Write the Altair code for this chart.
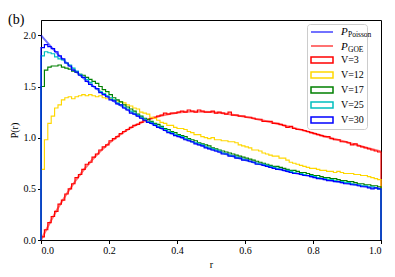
import altair as alt
import pandas as pd

# ---- values ----
curve_names = ["P_Poisson", "P_GOE"]
curve_colors = ["#0000ff", "#ff0000"]
hist_names = ["V=3", "V=12", "V=17", "V=25", "V=30"]
hist_colors = ["#ff0000", "#ffd700", "#008000", "#00bfbf", "#0000ff"]

r_curve = [0.0, 0.05, 0.1, 0.15, 0.2, 0.25, 0.3, 0.35, 0.4, 0.45, 0.5,
           0.55, 0.6, 0.65, 0.7, 0.75, 0.8, 0.85, 0.9, 0.95, 1.0]
poisson_curve = [2.0, 1.814, 1.653, 1.512, 1.389, 1.28, 1.183, 1.097, 1.020, 0.951, 0.889,
                 0.833, 0.781, 0.735, 0.692, 0.653, 0.617, 0.584, 0.554, 0.526, 0.5]
goe_curve = [0.0, 0.312, 0.572, 0.782, 0.946, 1.069, 1.156, 1.212, 1.244, 1.255, 1.250,
             1.232, 1.205, 1.171, 1.132, 1.089, 1.045, 1.000, 0.955, 0.910, 0.866]

hist_v3 = [0.03, 0.10, 0.17, 0.23, 0.28, 0.35, 0.39, 0.45, 0.50, 0.55,
           0.61, 0.64, 0.69, 0.74, 0.76, 0.81, 0.84, 0.88, 0.91, 0.93,
           0.97, 0.99, 1.01, 1.04, 1.06, 1.08, 1.10, 1.12, 1.13, 1.15,
           1.17, 1.18, 1.19, 1.20, 1.21, 1.22, 1.24, 1.23, 1.24, 1.24,
           1.25, 1.26, 1.25, 1.27, 1.26, 1.25, 1.27, 1.26, 1.25, 1.25,
           1.26, 1.24, 1.25, 1.24, 1.23, 1.25, 1.22, 1.22, 1.21, 1.21,
           1.20, 1.20, 1.19, 1.18, 1.18, 1.16, 1.16, 1.16, 1.14, 1.14,
           1.13, 1.12, 1.10, 1.11, 1.09, 1.08, 1.08, 1.07, 1.06, 1.05,
           1.04, 1.03, 1.02, 1.01, 1.01, 0.99, 0.98, 0.98, 0.96, 0.96,
           0.95, 0.93, 0.94, 0.92, 0.91, 0.90, 0.89, 0.88, 0.87, 0.86]
hist_v12 = [0.69, 0.98, 1.14, 1.21, 1.29, 1.32, 1.37, 1.39, 1.40, 1.38,
            1.40, 1.41, 1.42, 1.41, 1.42, 1.41, 1.40, 1.41, 1.39, 1.38,
            1.38, 1.37, 1.36, 1.35, 1.34, 1.32, 1.31, 1.29, 1.28, 1.25,
            1.24, 1.23, 1.20, 1.19, 1.17, 1.15, 1.14, 1.12, 1.12, 1.10,
            1.09, 1.09, 1.08, 1.06, 1.05, 1.03, 1.03, 1.01, 1.00, 0.99,
            1.00, 0.98, 0.98, 0.97, 0.97, 0.96, 0.96, 0.95, 0.93, 0.92,
            0.91, 0.90, 0.88, 0.88, 0.87, 0.85, 0.84, 0.83, 0.82, 0.82,
            0.80, 0.80, 0.78, 0.76, 0.75, 0.74, 0.73, 0.72, 0.71, 0.70,
            0.70, 0.69, 0.68, 0.68, 0.67, 0.67, 0.66, 0.67, 0.66, 0.65,
            0.65, 0.65, 0.64, 0.64, 0.63, 0.63, 0.62, 0.61, 0.60, 0.59]
hist_v17 = [1.50, 1.66, 1.69, 1.70, 1.70, 1.71, 1.69, 1.68, 1.67, 1.65,
            1.64, 1.62, 1.61, 1.59, 1.57, 1.55, 1.53, 1.50, 1.47, 1.45,
            1.42, 1.39, 1.37, 1.35, 1.32, 1.30, 1.28, 1.26, 1.23, 1.21,
            1.19, 1.18, 1.16, 1.14, 1.13, 1.11, 1.09, 1.08, 1.06, 1.05,
            1.03, 1.02, 1.01, 0.99, 0.98, 0.97, 0.95, 0.94, 0.93, 0.92,
            0.90, 0.89, 0.88, 0.87, 0.86, 0.85, 0.84, 0.83, 0.82, 0.81,
            0.80, 0.79, 0.78, 0.77, 0.76, 0.75, 0.74, 0.73, 0.72, 0.72,
            0.71, 0.70, 0.69, 0.68, 0.68, 0.67, 0.66, 0.66, 0.65, 0.64,
            0.63, 0.63, 0.62, 0.61, 0.61, 0.60, 0.60, 0.59, 0.58, 0.58,
            0.57, 0.57, 0.56, 0.55, 0.55, 0.54, 0.54, 0.53, 0.53, 0.52]
hist_v25 = [1.80, 1.84, 1.83, 1.82, 1.79, 1.77, 1.76, 1.73, 1.71, 1.68,
            1.65, 1.62, 1.59, 1.57, 1.54, 1.50, 1.48, 1.45, 1.43, 1.41,
            1.39, 1.37, 1.34, 1.32, 1.30, 1.28, 1.26, 1.24, 1.22, 1.20,
            1.18, 1.16, 1.15, 1.13, 1.11, 1.10, 1.08, 1.06, 1.05, 1.03,
            1.02, 1.01, 0.99, 0.98, 0.96, 0.95, 0.94, 0.93, 0.91, 0.90,
            0.89, 0.88, 0.87, 0.85, 0.84, 0.83, 0.82, 0.81, 0.80, 0.79,
            0.78, 0.77, 0.76, 0.75, 0.74, 0.74, 0.73, 0.72, 0.71, 0.70,
            0.69, 0.68, 0.68, 0.67, 0.66, 0.65, 0.65, 0.64, 0.63, 0.63,
            0.62, 0.61, 0.60, 0.60, 0.59, 0.59, 0.58, 0.57, 0.57, 0.56,
            0.56, 0.55, 0.54, 0.54, 0.53, 0.53, 0.52, 0.52, 0.51, 0.50]
hist_v30 = [1.88, 1.91, 1.89, 1.87, 1.84, 1.80, 1.77, 1.73, 1.70, 1.66,
            1.64, 1.61, 1.59, 1.55, 1.52, 1.50, 1.48, 1.44, 1.42, 1.40,
            1.37, 1.36, 1.33, 1.32, 1.29, 1.27, 1.24, 1.23, 1.21, 1.19,
            1.17, 1.15, 1.14, 1.12, 1.10, 1.09, 1.07, 1.05, 1.04, 1.02,
            1.01, 1.00, 0.98, 0.97, 0.96, 0.94, 0.93, 0.92, 0.90, 0.89,
            0.88, 0.87, 0.86, 0.84, 0.84, 0.82, 0.82, 0.80, 0.80, 0.78,
            0.78, 0.77, 0.76, 0.74, 0.74, 0.73, 0.72, 0.71, 0.70, 0.69,
            0.69, 0.68, 0.67, 0.66, 0.65, 0.65, 0.64, 0.63, 0.63, 0.62,
            0.61, 0.60, 0.60, 0.59, 0.58, 0.58, 0.57, 0.57, 0.56, 0.55,
            0.55, 0.54, 0.54, 0.53, 0.52, 0.52, 0.51, 0.50, 0.51, 0.50]

n_bins = 100
bin_edges = [round(i / n_bins, 2) for i in range(n_bins + 1)]

x_ticks = [0.0, 0.2, 0.4, 0.6, 0.8, 1.0]
y_ticks = [0.0, 0.5, 1.0, 1.5, 2.0]

# ---- tables built from the arrays ----
curve_df = pd.DataFrame({
    "name": ["P_Poisson"] * len(r_curve) + ["P_GOE"] * len(r_curve),
    "r": r_curve + r_curve,
    "p": poisson_curve + goe_curve,
})

series = dict(zip(hist_names, [hist_v3, hist_v12, hist_v17, hist_v25, hist_v30]))


def step_table(name, vals):
    pts = [(bin_edges[0], 0.0)]
    pts += [(bin_edges[i], vals[i]) for i in range(n_bins)]
    pts += [(bin_edges[-1], vals[-1]), (bin_edges[-1], 0.0)]
    return pd.DataFrame({"name": name, "r": [a for a, _ in pts],
                         "p": [b for _, b in pts], "k": list(range(len(pts)))})


FONT = "Liberation Serif"
X = alt.X("r:Q", scale=alt.Scale(domain=[0, 1], nice=False, zero=False),
          axis=alt.Axis(values=x_ticks, format=".1f", title="r"))
Y = alt.Y("p:Q", scale=alt.Scale(domain=[0, 2.15], nice=False),
          axis=alt.Axis(values=y_ticks, format=".1f", title="P(r)"))

# ---- legend geometry ----
LX = 266
SYM = 144
line_path = "M-1,0H2.667"
rect_path = "M-1,-0.5H2.667V0.5H-1Z"
blank = "\u00a0" * 13
wide = "\u00a0" * 22
common = dict(orient="none", legendX=LX, padding=3, symbolSize=SYM, labelOffset=17, rowPadding=2,
              labelFont=FONT, labelColor="black")

curve_legend = alt.Legend(legendY=2, title=None, symbolType=line_path, symbolStrokeWidth=2,
                          symbolOpacity=0.55, labelFontSize=10, labelExpr=f"'{blank}'", **common)
hist_legend = alt.Legend(legendY=4, title=[wide, wide], titleFont=FONT, titleFontSize=10,
                         titleLineHeight=14, titlePadding=2, symbolType=rect_path,
                         symbolStrokeWidth=1.5, labelFontSize=10, strokeColor="#cccccc",
                         cornerRadius=3, **common)

layers = [
    alt.Chart(curve_df).mark_line(strokeWidth=2, opacity=0.55, interpolate="monotone")
    .encode(x=X, y=Y,
            color=alt.Color("name:N", scale=alt.Scale(domain=curve_names, range=curve_colors),
                            legend=curve_legend))
]
for nm in hist_names:
    layers.append(
        alt.Chart(step_table(nm, series[nm])).mark_line(strokeWidth=1.15, interpolate="step-after")
        .encode(x=X, y=Y,
                stroke=alt.Stroke("name:N", scale=alt.Scale(domain=hist_names, range=hist_colors),
                                  legend=hist_legend),
                order=alt.Order("k:Q"))
    )

# italic "P" and its subscripts, as two extra legends driven by hidden, clipped points
p_df = pd.DataFrame({"pn": ["Pa", "Pb"], "r": [0.5, 0.5], "p": [-1.0, -1.0]})
layers.append(
    alt.Chart(p_df).mark_point(clip=True).encode(
        x=X, y=Y,
        strokeDash=alt.StrokeDash("pn:N", scale=alt.Scale(domain=["Pa", "Pb"], range=[[1, 0], [1, 0]]),
                                  legend=alt.Legend(legendY=2, title=None, symbolOpacity=0,
                                                    labelExpr="'P'", labelFontSize=11,
                                                    labelFontStyle="italic", **common)),
    )
)
sub_df = pd.DataFrame({"sn": ["Poisson", "GOE"], "r": [0.5, 0.5], "p": [-1.0, -1.0]})
sub_common = dict(common)
sub_common["legendX"] = LX + 7
layers.append(
    alt.Chart(sub_df).mark_point(clip=True).encode(
        x=X, y=Y,
        fill=alt.Fill("sn:N", scale=alt.Scale(domain=["Poisson", "GOE"], range=["#ffffff", "#ffffff"]),
                      legend=alt.Legend(legendY=5, title=None, symbolOpacity=0,
                                        labelFontSize=7.5, **sub_common)),
    )
)

chart = alt.layer(*layers).properties(
    width=340, height=220,
    padding={"left": 33, "top": 12, "right": 6, "bottom": 29},
    autosize=alt.AutoSizeParams(type="none"),
    title=alt.TitleParams("(b)", anchor="start", frame="group", fontSize=14, font=FONT,
                          fontWeight="normal", color="black", dx=-33, dy=7, offset=0),
).configure_axis(
    grid=False, domainColor="black", domainWidth=1, tickColor="black", tickSize=3.5, tickWidth=1,
    labelFont=FONT, labelFontSize=10, labelColor="black", labelPadding=2,
    titleFont=FONT, titleFontSize=10, titleFontWeight="normal", titleColor="black", titlePadding=4,
).configure_view(stroke="black", strokeWidth=1)

chart.save("out.html", embed_options={"renderer": "svg", "actions": False})
